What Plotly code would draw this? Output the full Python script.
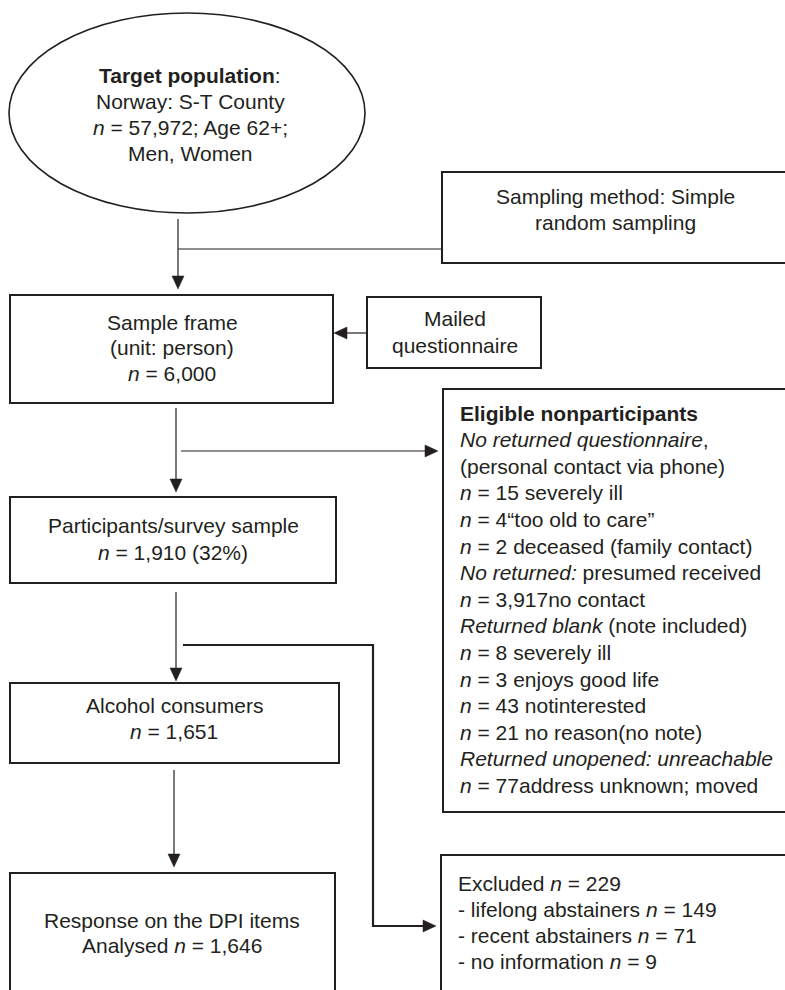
import plotly.graph_objects as go

W, H = 785, 990
FONT = "Liberation Sans, Arial, Helvetica, sans-serif"
INK = "#231f20"
FS = 21

# ---------------- text content ----------------
target_lines = ["<b>Target population</b>:", "Norway: S-T County",
                "<i>n</i> = 57,972; Age 62+;", "Men, Women"]
sampling_lines = ["Sampling method: Simple", "random sampling"]
frame_lines = ["Sample frame", "(unit: person)", "<i>n</i> = 6,000"]
mailed_lines = ["Mailed", "questionnaire"]
participants_lines = ["Participants/survey sample", "<i>n</i> = 1,910 (32%)"]
alcohol_lines = ["Alcohol consumers", "<i>n</i> = 1,651"]
response_lines = ["Response on the DPI items", "Analysed <i>n</i> = 1,646"]
eligible_lines = [
    "<b>Eligible nonparticipants</b>",
    "<i>No returned questionnaire</i>,",
    "(personal contact via phone)",
    "<i>n</i> = 15 severely ill",
    "<i>n</i> = 4\u201ctoo old to care\u201d",
    "<i>n</i> = 2 deceased (family contact)",
    "<i>No returned:</i> presumed received",
    "<i>n</i> = 3,917no contact",
    "<i>Returned blank</i> (note included)",
    "<i>n</i> = 8 severely ill",
    "<i>n</i> = 3 enjoys good life",
    "<i>n</i> = 43 notinterested",
    "<i>n</i> = 21 no reason(no note)",
    "<i>Returned unopened: unreachable</i>",
    "<i>n</i> = 77address unknown; moved",
]
excluded_lines = ["Excluded <i>n</i> = 229",
                  "- lifelong abstainers <i>n</i> = 149",
                  "- recent abstainers <i>n</i> = 71",
                  "- no information <i>n</i> = 9"]

# ---------------- layout geometry (pixels, y downwards) ----------------
ellipse = dict(x0=9, y0=13, x1=365, y1=213)
boxes = {
    "sampling": (442, 172, 800, 263),
    "frame": (10, 295, 333, 403),
    "mailed": (367, 297, 541, 368),
    "participants": (10, 497, 336, 583),
    "eligible": (443, 389, 800, 812),
    "alcohol": (10, 683, 339, 763),
    "response": (10, 873, 335, 1000),
    "excluded": (441, 855, 800, 1000),
}
# (lines, x, first y, step, align)
texts = [
    (target_lines, 190, 75, 26.2, "center"),
    (sampling_lines, 615, 196, 26, "center"),
    (frame_lines, 172, 322, 25.5, "center"),
    (mailed_lines, 455, 318, 27, "center"),
    (participants_lines, 173, 525, 27, "center"),
    (alcohol_lines, 174, 705, 26, "center"),
    (response_lines, 172, 920, 25.5, "center"),
    (eligible_lines, 458, 413, 26.6, "left"),
    (excluded_lines, 456, 883, 26.3, "left"),
]

fig = go.Figure()
shapes = []
annotations = []

shapes.append(dict(type="circle", xref="x", yref="y", line=dict(color=INK, width=1.6),
                   fillcolor="rgba(0,0,0,0)", **ellipse))
for name, (x0, y0, x1, y1) in boxes.items():
    shapes.append(dict(type="rect", xref="x", yref="y", x0=x0, y0=y0, x1=x1, y1=y1,
                       line=dict(color=INK, width=2), fillcolor="rgba(0,0,0,0)"))


def seg(pts, width=1.2):
    d = "M " + " L ".join(f"{x},{y}" for x, y in pts)
    shapes.append(dict(type="path", path=d, xref="x", yref="y",
                       line=dict(color=INK, width=width)))


def head(x, y, direction, L=13, hw=6):
    if direction == "down":
        pts = [(x, y), (x - hw, y - L), (x + hw, y - L)]
    elif direction == "right":
        pts = [(x, y), (x - L, y - hw), (x - L, y + hw)]
    else:  # left
        pts = [(x, y), (x + L, y - hw), (x + L, y + hw)]
    d = "M " + " L ".join(f"{a},{b}" for a, b in pts) + " Z"
    shapes.append(dict(type="path", path=d, xref="x", yref="y",
                       line=dict(color=INK, width=0.5), fillcolor=INK))


# ellipse -> sample frame, branch to sampling method
seg([(178, 219), (178, 280)])
head(178, 289, "down")
seg([(178, 249), (442, 249)])
# mailed -> frame
seg([(367, 333), (344, 333)])
head(334, 333, "left")
# frame -> participants, branch -> eligible
seg([(176, 408), (176, 483)])
head(176, 492, "down")
seg([(181, 451), (428, 451)])
head(438, 451, "right")
# participants -> alcohol, branch -> excluded
seg([(176, 592), (176, 672)])
head(176, 681, "down")
seg([(183, 645), (373, 645), (373, 926), (426, 926)], width=2.2)
head(436, 926, "right")
# alcohol -> response
seg([(174, 770), (174, 858)])
head(174, 867, "down")

for lines, x, y0, step, align in texts:
    for i, t in enumerate(lines):
        annotations.append(dict(
            x=x, y=y0 + i * step, xref="x", yref="y", text=t, showarrow=False,
            xanchor=align, yanchor="middle", align=align,
            font=dict(family=FONT, size=FS, color=INK)))

fig.update_layout(
    width=W, height=H, margin=dict(l=0, r=0, t=0, b=0),
    paper_bgcolor="white", plot_bgcolor="white",
    xaxis=dict(range=[0, W], visible=False, fixedrange=True),
    yaxis=dict(range=[H, 0], visible=False, fixedrange=True),
    shapes=shapes, annotations=annotations, showlegend=False,
)
fig.write_html("out.html", config={"displayModeBar": False},
               post_script="document.body.style.margin='0';document.body.style.overflow='hidden';")
